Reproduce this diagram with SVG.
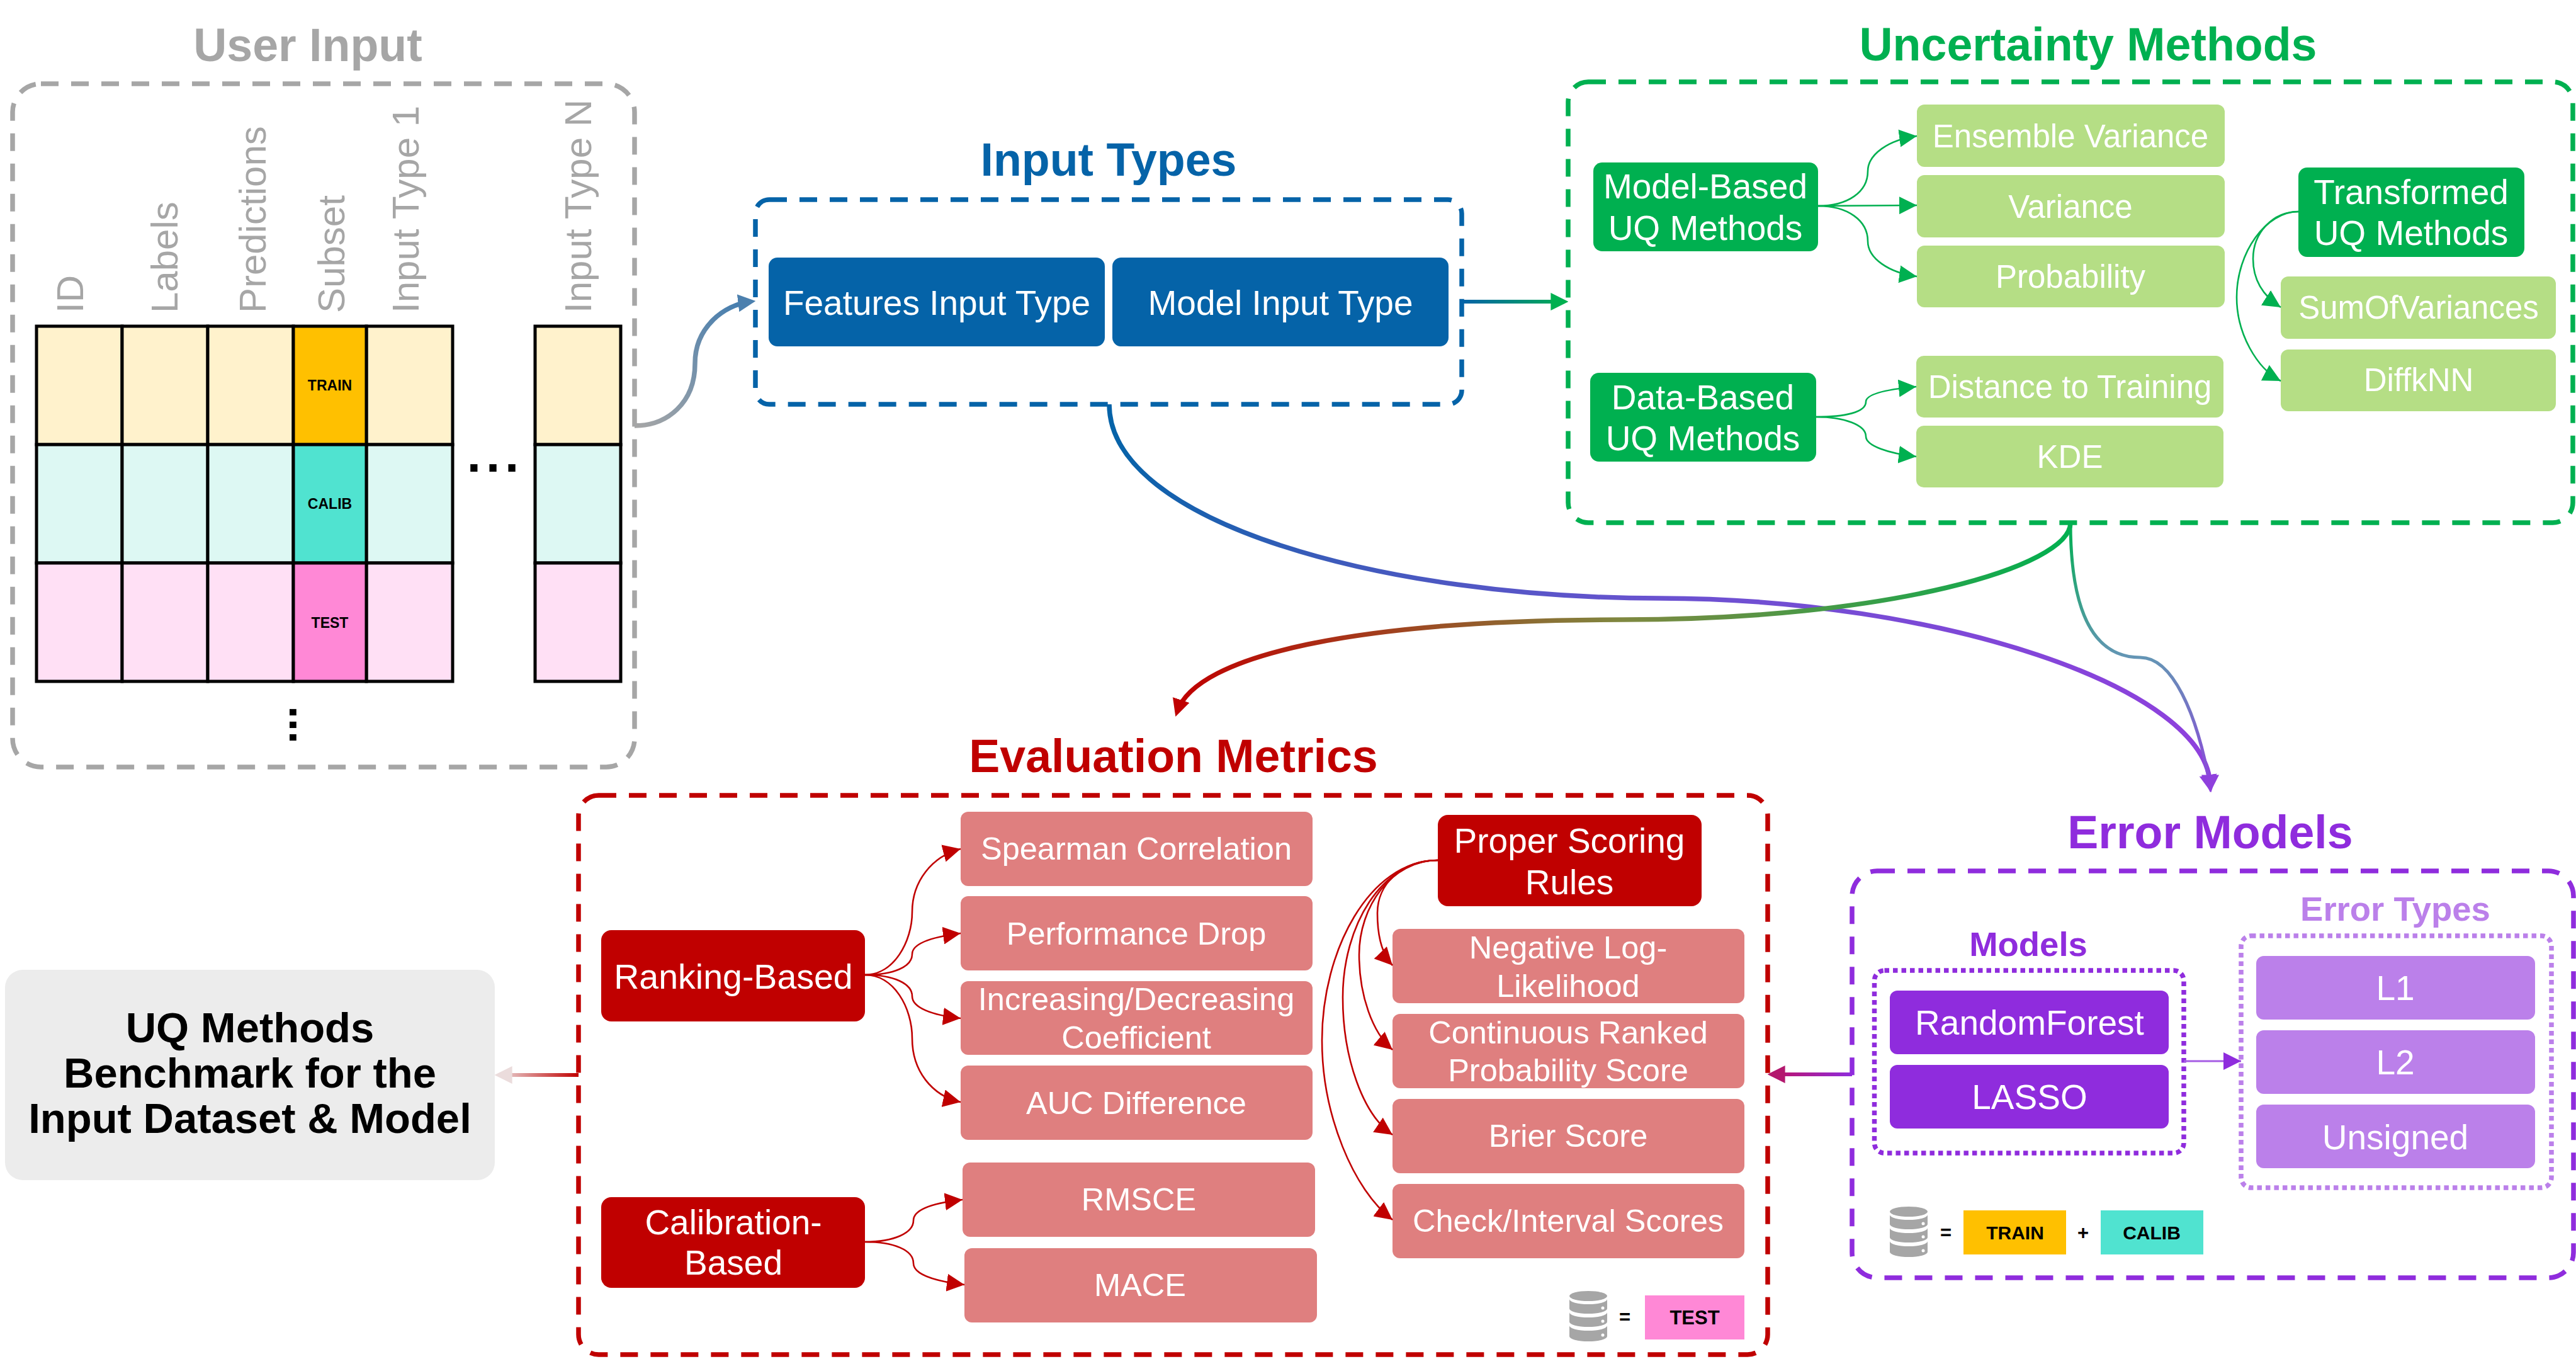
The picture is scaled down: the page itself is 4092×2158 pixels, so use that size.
<svg xmlns="http://www.w3.org/2000/svg" width="4092" height="2158" viewBox="0 0 4092 2158">
<style>
text{font-family:"Liberation Sans",Arial,sans-serif;text-anchor:middle}
.title{font-size:73.5px;font-weight:700}
.sub{font-size:54.5px;font-weight:700}
.box{fill:none;stroke-width:7.5;stroke-dasharray:28 20}
.dot{fill:none;stroke-width:7.5;stroke-dasharray:7.5 6}
.col{font-size:60px;fill:#A6A6A6;text-anchor:start}
.cell{stroke:#000;stroke-width:5}
.tag{font-size:23px;font-weight:700;fill:#000}
.leg{font-size:31px;font-weight:700;fill:#000}
.ell{font-size:80px;font-weight:700;fill:#000}
.t55{font-size:55px;fill:#fff}
.t51{font-size:51px;fill:#fff}
.t50{font-size:50.5px;fill:#fff}
.t56{font-size:55.5px;fill:#fff}
.blue{fill:#0563A8}.green{fill:#00B050}.lgreen{fill:#B5DE85}.red{fill:#C00000}.lred{fill:#DF7F7F}.purple{fill:#8F2CDD}.lpurple{fill:#BB80EA}
.cG{fill:none;stroke:#00B050;stroke-width:2.6}
.cR{fill:none;stroke:#C00000;stroke-width:2.6}
.cP{fill:none;stroke:#A55CE4;stroke-width:3}
.thick{fill:none;stroke-width:7.5}
</style>
<defs>
<marker id="aG" viewBox="0 0 10 10" refX="10" refY="5" markerUnits="userSpaceOnUse" markerWidth="28" markerHeight="28" orient="auto"><path d="M0 0L10 5L0 10z" fill="#00B050"/></marker>
<marker id="aR" viewBox="0 0 10 10" refX="10" refY="5" markerUnits="userSpaceOnUse" markerWidth="28" markerHeight="28" orient="auto"><path d="M0 0L10 5L0 10z" fill="#C00000"/></marker>
<marker id="aP" viewBox="0 0 10 10" refX="10" refY="5" markerUnits="userSpaceOnUse" markerWidth="28" markerHeight="28" orient="auto"><path d="M0 0L10 5L0 10z" fill="#8F2CDD"/></marker>
<marker id="tB" viewBox="0 0 10 10" refX="7" refY="5" markerUnits="userSpaceOnUse" markerWidth="28" markerHeight="28" orient="auto"><path d="M0 0L10 5L0 10z" fill="#4C80AE"/></marker>
<marker id="tG" viewBox="0 0 10 10" refX="7" refY="5" markerUnits="userSpaceOnUse" markerWidth="28" markerHeight="28" orient="auto"><path d="M0 0L10 5L0 10z" fill="#00B050"/></marker>
<marker id="tR" viewBox="0 0 10 10" refX="7" refY="5" markerUnits="userSpaceOnUse" markerWidth="28" markerHeight="28" orient="auto"><path d="M0 0L10 5L0 10z" fill="#C00000"/></marker>
<marker id="tP" viewBox="0 0 10 10" refX="7" refY="5" markerUnits="userSpaceOnUse" markerWidth="28" markerHeight="28" orient="auto"><path d="M0 0L10 5L0 10z" fill="#8F40DD"/></marker>
<marker id="tM" viewBox="0 0 10 10" refX="7" refY="5" markerUnits="userSpaceOnUse" markerWidth="28" markerHeight="28" orient="auto"><path d="M0 0L10 5L0 10z" fill="#B3186E"/></marker>
<marker id="tL" viewBox="0 0 10 10" refX="7" refY="5" markerUnits="userSpaceOnUse" markerWidth="28" markerHeight="28" orient="auto"><path d="M0 0L10 5L0 10z" fill="#EBDCDC"/></marker>
<linearGradient id="gUser" gradientUnits="userSpaceOnUse" x1="1008" y1="676" x2="1200" y2="478"><stop offset="0" stop-color="#A6A6A6"/><stop offset="1" stop-color="#3F7BB0"/></linearGradient>
<linearGradient id="gIU" gradientUnits="userSpaceOnUse" x1="2323" y1="0" x2="2491" y2="0"><stop offset="0" stop-color="#0563A8"/><stop offset="1" stop-color="#00B050"/></linearGradient>
<linearGradient id="gIE" gradientUnits="userSpaceOnUse" x1="1762" y1="0" x2="3511" y2="0"><stop offset="0" stop-color="#0563A8"/><stop offset="0.2" stop-color="#3D5BBB"/><stop offset="0.5" stop-color="#6A52D0"/><stop offset="1" stop-color="#8F40DD"/></linearGradient>
<linearGradient id="gUEv" gradientUnits="userSpaceOnUse" x1="3289" y1="0" x2="1867" y2="0"><stop offset="0" stop-color="#00B050"/><stop offset="0.5" stop-color="#7F8840"/><stop offset="1" stop-color="#C00000"/></linearGradient>
<linearGradient id="gUEr" gradientUnits="userSpaceOnUse" x1="0" y1="830" x2="0" y2="1258"><stop offset="0" stop-color="#00B050"/><stop offset="0.5" stop-color="#6495B5"/><stop offset="1" stop-color="#8F40DD"/></linearGradient>
<linearGradient id="gErEv" gradientUnits="userSpaceOnUse" x1="2942" y1="0" x2="2808" y2="0"><stop offset="0" stop-color="#8F2CDD"/><stop offset="1" stop-color="#C01060"/></linearGradient>
<linearGradient id="gEvUQ" gradientUnits="userSpaceOnUse" x1="919" y1="0" x2="786" y2="0"><stop offset="0" stop-color="#C00000"/><stop offset="1" stop-color="#ECE4E4"/></linearGradient>
<g id="db">
<ellipse cx="30" cy="8" rx="30" ry="8" fill="#A6A6A6"/>
<path d="M0 13A30 8 0 0 0 60 13V28A30 8 0 0 1 0 28Z" fill="#A6A6A6"/>
<path d="M0 34A30 8 0 0 0 60 34V49A30 8 0 0 1 0 49Z" fill="#A6A6A6"/>
<path d="M0 55A30 8 0 0 0 60 55V72A30 8 0 0 1 0 72Z" fill="#A6A6A6"/>
<circle cx="53" cy="27" r="2.5" fill="#fff"/><circle cx="53" cy="48" r="2.5" fill="#fff"/><circle cx="53" cy="70" r="2.5" fill="#fff"/>
</g>
</defs>

<g id="user-input">
<text class="title" x="489" y="97" fill="#A6A6A6">User Input</text>
<rect class="box" x="20" y="133" width="988" height="1085" rx="45" stroke="#A6A6A6"/>
<text class="col" transform="translate(132,497) rotate(-90)">ID</text>
<text class="col" transform="translate(282,497) rotate(-90)">Labels</text>
<text class="col" transform="translate(422,497) rotate(-90)">Predictions</text>
<text class="col" transform="translate(547,497) rotate(-90)">Subset</text>
<text class="col" transform="translate(665,497) rotate(-90)">Input Type 1</text>
<text class="col" transform="translate(939,497) rotate(-90)">Input Type N</text>
<g class="cell" fill="#FFF2CC"><rect x="58" y="518" width="136" height="188"/><rect x="194" y="518" width="136" height="188"/><rect x="330" y="518" width="136" height="188"/><rect x="582" y="518" width="137" height="188"/><rect x="850" y="518" width="136" height="188"/></g>
<g class="cell" fill="#DDF8F3"><rect x="58" y="706" width="136" height="188"/><rect x="194" y="706" width="136" height="188"/><rect x="330" y="706" width="136" height="188"/><rect x="582" y="706" width="137" height="188"/><rect x="850" y="706" width="136" height="188"/></g>
<g class="cell" fill="#FFE0F5"><rect x="58" y="894" width="136" height="188"/><rect x="194" y="894" width="136" height="188"/><rect x="330" y="894" width="136" height="188"/><rect x="582" y="894" width="137" height="188"/><rect x="850" y="894" width="136" height="188"/></g>
<rect class="cell" x="466" y="518" width="116" height="188" fill="#FFC000"/>
<rect class="cell" x="466" y="706" width="116" height="188" fill="#50E3D0"/>
<rect class="cell" x="466" y="894" width="116" height="188" fill="#FF88D6"/>
<text class="tag" x="524" y="620">TRAIN</text>
<text class="tag" x="524" y="808">CALIB</text>
<text class="tag" x="524" y="997">TEST</text>
<text class="ell" x="787" y="749" letter-spacing="8">...</text>
<text class="ell" transform="translate(460,1151) rotate(90)" style="font-size:72px">...</text>
</g>

<g id="input-types">
<text class="title" x="1761" y="279" fill="#0563A8">Input Types</text>
<rect class="box" x="1200" y="317" width="1122" height="325" rx="22" stroke="#0563A8"/>
<g id="features-input-type"><rect class="blue" x="1221" y="409" width="534" height="141" rx="14"/><text class="t55" x="1488" y="500">Features Input Type</text></g>
<g id="model-input-type"><rect class="blue" x="1767" y="409" width="534" height="141" rx="14"/><text class="t55" x="2034" y="500">Model Input Type</text></g>
</g>

<g id="uncertainty-methods">
<text class="title" x="3317" y="96" fill="#00B050">Uncertainty Methods</text>
<rect class="box" x="2491" y="130" width="1596" height="700" rx="32" stroke="#00B050"/>
<g id="model-based"><rect class="green" x="2531" y="258" width="357" height="141" rx="14"/><text class="t55" x="2709" y="315">Model-Based</text><text class="t55" x="2709" y="381">UQ Methods</text></g>
<g id="ensemble-variance"><rect class="lgreen" x="3045" y="166" width="489" height="99" rx="12"/><text class="t51" x="3289" y="234">Ensemble Variance</text></g>
<g id="variance"><rect class="lgreen" x="3045" y="278" width="489" height="99" rx="12"/><text class="t51" x="3289" y="346">Variance</text></g>
<g id="probability"><rect class="lgreen" x="3045" y="390" width="489" height="98" rx="12"/><text class="t51" x="3289" y="457">Probability</text></g>
<g id="data-based"><rect class="green" x="2526" y="592" width="359" height="141" rx="14"/><text class="t55" x="2705" y="650">Data-Based</text><text class="t55" x="2705" y="715">UQ Methods</text></g>
<g id="distance-to-training"><rect class="lgreen" x="3044" y="565" width="488" height="98" rx="12"/><text class="t51" x="3288" y="632">Distance to Training</text></g>
<g id="kde"><rect class="lgreen" x="3044" y="676" width="488" height="98" rx="12"/><text class="t51" x="3288" y="743">KDE</text></g>
<g id="transformed"><rect class="green" x="3651" y="266" width="359" height="142" rx="14"/><text class="t55" x="3830" y="324">Transformed</text><text class="t55" x="3830" y="389">UQ Methods</text></g>
<g id="sumofvariances"><rect class="lgreen" x="3623" y="439" width="437" height="99" rx="12"/><text class="t51" x="3842" y="506">SumOfVariances</text></g>
<g id="diffknn"><rect class="lgreen" x="3623" y="555" width="437" height="98" rx="12"/><text class="t51" x="3842" y="621">DiffkNN</text></g>
</g>

<g id="evaluation-metrics">
<text class="title" x="1864" y="1226" fill="#C00000">Evaluation Metrics</text>
<rect class="box" x="919" y="1263" width="1889" height="888" rx="32" stroke="#C00000"/>
<g id="ranking-based"><rect class="red" x="955" y="1477" width="419" height="145" rx="16"/><text class="t56" x="1165" y="1570">Ranking-Based</text></g>
<g id="spearman"><rect class="lred" x="1526" y="1289" width="559" height="118" rx="12"/><text class="t50" x="1805" y="1365">Spearman Correlation</text></g>
<g id="performance-drop"><rect class="lred" x="1526" y="1423" width="559" height="118" rx="12"/><text class="t50" x="1805" y="1500">Performance Drop</text></g>
<g id="inc-dec"><rect class="lred" x="1526" y="1558" width="559" height="117" rx="12"/><text class="t50" x="1805" y="1604">Increasing/Decreasing</text><text class="t50" x="1805" y="1665">Coefficient</text></g>
<g id="auc"><rect class="lred" x="1526" y="1692" width="559" height="118" rx="12"/><text class="t50" x="1805" y="1769">AUC Difference</text></g>
<g id="calibration-based"><rect class="red" x="955" y="1901" width="419" height="144" rx="16"/><text class="t55" x="1165" y="1960">Calibration-</text><text class="t55" x="1165" y="2024">Based</text></g>
<g id="rmsce"><rect class="lred" x="1529" y="1846" width="560" height="118" rx="12"/><text class="t50" x="1809" y="1922">RMSCE</text></g>
<g id="mace"><rect class="lred" x="1532" y="1982" width="560" height="118" rx="12"/><text class="t50" x="1811" y="2058">MACE</text></g>
<g id="proper-scoring"><rect class="red" x="2284" y="1294" width="419" height="145" rx="16"/><text class="t55" x="2493" y="1354">Proper Scoring</text><text class="t55" x="2493" y="1420">Rules</text></g>
<g id="nll"><rect class="lred" x="2212" y="1475" width="559" height="118" rx="12"/><text class="t50" x="2491" y="1522">Negative Log-</text><text class="t50" x="2491" y="1583">Likelihood</text></g>
<g id="crps"><rect class="lred" x="2212" y="1610" width="559" height="118" rx="12"/><text class="t50" x="2491" y="1657">Continuous Ranked</text><text class="t50" x="2491" y="1717">Probability Score</text></g>
<g id="brier"><rect class="lred" x="2212" y="1745" width="559" height="118" rx="12"/><text class="t50" x="2491" y="1821">Brier Score</text></g>
<g id="check"><rect class="lred" x="2212" y="1880" width="559" height="118" rx="12"/><text class="t50" x="2491" y="1956">Check/Interval Scores</text></g>
<use href="#db" x="2493" y="2050"/>
<text class="leg" x="2581" y="2102">=</text>
<rect x="2613" y="2057" width="158" height="70" fill="#FF88D6"/>
<text class="leg" x="2692" y="2103">TEST</text>
</g>

<g id="error-models">
<text class="title" x="3511" y="1347" fill="#8F2CDD">Error Models</text>
<rect class="box" x="2942" y="1383" width="1146" height="646" rx="40" stroke="#8F2CDD"/>
<text class="sub" x="3222" y="1518" fill="#8F2CDD">Models</text>
<rect class="dot" x="2977.5" y="1541" width="491.5" height="290" rx="16" stroke="#8F2CDD"/>
<g id="randomforest"><rect class="purple" x="3002" y="1573" width="443" height="101" rx="12"/><text class="t55" x="3224" y="1643">RandomForest</text></g>
<g id="lasso"><rect class="purple" x="3002" y="1691" width="443" height="101" rx="12"/><text class="t55" x="3224" y="1761">LASSO</text></g>
<text class="sub" x="3805" y="1462" fill="#BB80EA">Error Types</text>
<rect class="dot" x="3560" y="1486" width="493" height="400" rx="16" stroke="#BB80EA"/>
<g id="l1"><rect class="lpurple" x="3584" y="1518" width="443" height="101" rx="12"/><text class="t55" x="3805" y="1588">L1</text></g>
<g id="l2"><rect class="lpurple" x="3584" y="1636" width="443" height="101" rx="12"/><text class="t55" x="3805" y="1706">L2</text></g>
<g id="unsigned"><rect class="lpurple" x="3584" y="1754" width="443" height="101" rx="12"/><text class="t55" x="3805" y="1825">Unsigned</text></g>
<use href="#db" x="3002" y="1916"/>
<text class="leg" x="3091" y="1968">=</text>
<rect x="3119" y="1922" width="163" height="70" fill="#FFC000"/>
<text class="leg" x="3201" y="1968" style="font-size:30px">TRAIN</text>
<text class="leg" x="3309" y="1968">+</text>
<rect x="3337" y="1922" width="163" height="70" fill="#50E3D0"/>
<text class="leg" x="3418" y="1968" style="font-size:30px">CALIB</text>
</g>

<g id="benchmark">
<rect x="8" y="1540" width="778" height="334" rx="28" fill="#ECECEC"/>
<text x="397" y="1655" font-size="67" font-weight="700" fill="#000">UQ Methods</text>
<text x="397" y="1727" font-size="67" font-weight="700" fill="#000">Benchmark for the</text>
<text x="397" y="1799" font-size="67" font-weight="700" fill="#000">Input Dataset &amp; Model</text>
</g>

<g id="connectors">
<path class="thick" stroke="url(#gUser)" marker-end="url(#tB)" d="M1008 676C1060 676 1104 640 1104 577C1104 520 1150 484 1192 479"/>
<path class="thick" style="stroke-width:6" stroke="url(#gIU)" marker-end="url(#tG)" d="M2323 479L2483 479"/>
<path class="thick" stroke="url(#gIE)" marker-end="url(#tP)" d="M1762 642C1762 830 2200 950 2636 950C3072 950 3511 1090 3511 1250"/>
<path class="thick" stroke="url(#gUEv)" marker-end="url(#tR)" d="M3289 830C3289 900 3000 984 2578 984C2156 984 1900 1040 1870 1130"/>
<path fill="none" stroke-width="5" stroke="url(#gUEr)" marker-end="url(#tP)" d="M3289 830C3289 960 3320 1044 3400 1044C3450 1044 3490 1130 3511 1250"/>
<path class="thick" style="stroke-width:6" stroke="url(#gErEv)" marker-end="url(#tM)" d="M2942 1706L2816 1706"/>
<path class="thick" style="stroke-width:6" stroke="url(#gEvUQ)" marker-end="url(#tL)" d="M919 1707L794 1707"/>
<path class="cG" marker-end="url(#aG)" d="M2888 327C2935 327 2967 305 2967 272C2967 245 3000 222 3045 216"/>
<path class="cG" marker-end="url(#aG)" d="M2888 327L3045 326"/>
<path class="cG" marker-end="url(#aG)" d="M2888 327C2935 327 2967 350 2967 383C2967 410 3000 433 3045 439"/>
<path class="cG" marker-end="url(#aG)" d="M2885 662C2930 662 2964 655 2964 638C2964 625 3000 618 3044 614"/>
<path class="cG" marker-end="url(#aG)" d="M2885 662C2930 662 2964 675 2964 693C2964 708 3000 720 3044 725"/>
<path class="cG" marker-end="url(#aG)" d="M3651 336C3610 336 3579 370 3579 411C3579 445 3595 470 3623 488"/>
<path class="cG" marker-end="url(#aG)" d="M3651 336C3600 336 3553 400 3553 472C3553 530 3585 585 3623 605"/>
<path class="cR" marker-end="url(#aR)" d="M1374 1548C1420 1548 1449 1495 1449 1448C1449 1400 1480 1360 1526 1348"/>
<path class="cR" marker-end="url(#aR)" d="M1374 1548C1420 1548 1449 1535 1449 1515C1449 1498 1480 1488 1526 1482"/>
<path class="cR" marker-end="url(#aR)" d="M1374 1548C1420 1548 1449 1562 1449 1582C1449 1600 1480 1612 1526 1617"/>
<path class="cR" marker-end="url(#aR)" d="M1374 1548C1420 1548 1449 1600 1449 1649C1449 1700 1480 1740 1526 1750"/>
<path class="cR" marker-end="url(#aR)" d="M1374 1972C1420 1972 1451 1958 1451 1938C1451 1920 1485 1910 1529 1905"/>
<path class="cR" marker-end="url(#aR)" d="M1374 1972C1420 1972 1451 1985 1451 2006C1451 2025 1490 2035 1532 2040"/>
<path class="cR" marker-end="url(#aR)" d="M2284 1366C2225 1366 2188 1405 2188 1450C2188 1485 2195 1515 2212 1533"/>
<path class="cR" marker-end="url(#aR)" d="M2284 1366C2210 1366 2159 1440 2159 1516C2159 1580 2180 1640 2212 1667"/>
<path class="cR" marker-end="url(#aR)" d="M2284 1366C2195 1366 2133 1470 2133 1584C2133 1680 2165 1770 2212 1802"/>
<path class="cR" marker-end="url(#aR)" d="M2284 1366C2175 1366 2100 1510 2100 1652C2100 1770 2150 1890 2212 1937"/>
<path class="cP" marker-end="url(#aP)" d="M3469 1685L3560 1685"/>
</g>
</svg>
